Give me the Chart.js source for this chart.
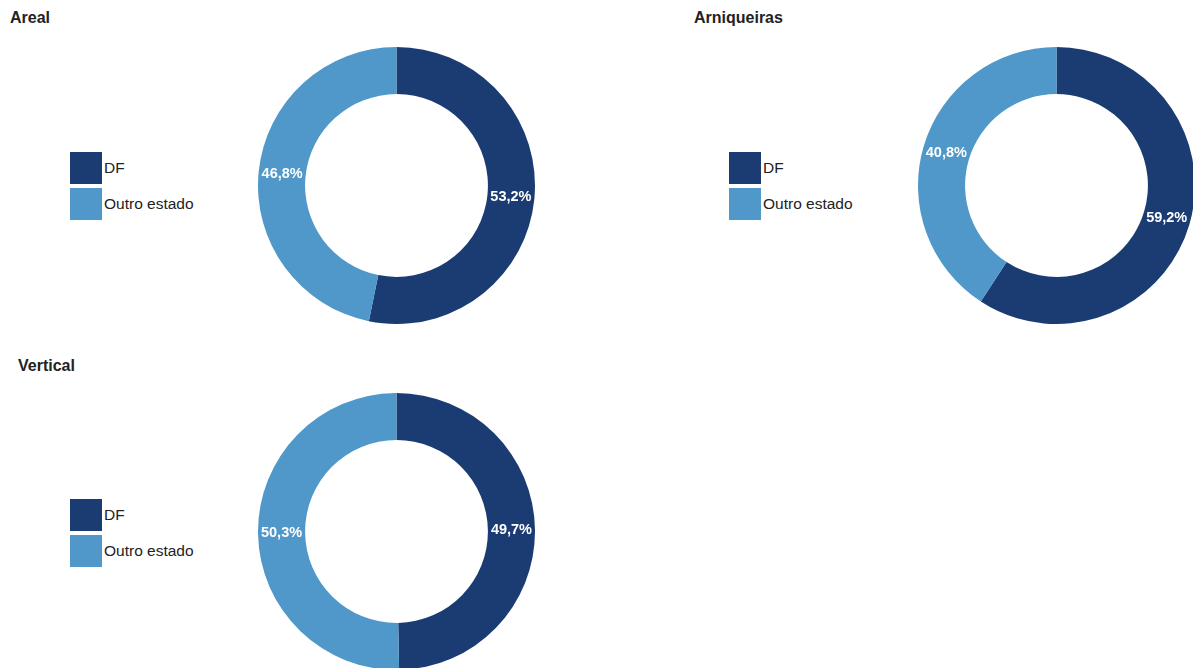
<!DOCTYPE html>
<html>
<head>
<meta charset="utf-8">
<script src="https://cdn.jsdelivr.net/npm/chart.js"></script>
<style>
  body { margin: 0; width: 1193px; height: 668px; overflow: hidden; position: relative; background: #fff;
         font-family: "Liberation Sans", Arial, sans-serif; color: #222; }
  .title { position: absolute; font-weight: bold; font-size: 16px; line-height: 16px; }
  .legend { position: absolute; }
  .item { position: relative; height: 32px; margin-bottom: 4px; }
  .box { position: absolute; left: 0; top: 0; width: 32px; height: 32px; }
  .lbl { position: absolute; left: 34px; top: 0; line-height: 32px; font-size: 15.5px; white-space: nowrap; }
  .wrap { position: absolute; width: 277px; height: 277px; }
</style>
</head>
<body>
<script>
// dados
const categories = ['DF', 'Outro estado'];
const arealValues = [53.2, 46.8];
const arniqueirasValues = [59.2, 40.8];
const verticalValues = [49.7, 50.3];
const colors = ['#1b3c73', '#4f98c9'];

// layout de cada painel
const panels = [
  { title: 'Areal', values: arealValues, tx: 10, ty: 10, lx: 70, ly: 152, cx: 258, cy: 47 },
  { title: 'Arniqueiras', values: arniqueirasValues, tx: 694, ty: 10, lx: 729, ly: 152, cx: 918, cy: 47 },
  { title: 'Vertical', values: verticalValues, tx: 18, ty: 358, lx: 70, ly: 499, cx: 258, cy: 393 }
];

// rotulos no meio de cada fatia
const arcLabels = {
  id: 'arcLabels',
  afterDatasetsDraw(chart) {
    const ctx = chart.ctx;
    const meta = chart.getDatasetMeta(0);
    const data = chart.data.datasets[0].data;
    ctx.save();
    ctx.fillStyle = '#fff';
    ctx.font = 'bold 14.5px "Liberation Sans", Arial, sans-serif';
    ctx.textAlign = 'center';
    ctx.textBaseline = 'middle';
    meta.data.forEach((arc, i) => {
      const p = arc.tooltipPosition();
      ctx.fillText(data[i].toFixed(1).replace('.', ',') + '%', p.x, p.y);
    });
    ctx.restore();
  }
};

panels.forEach(function (p) {
  var t = document.createElement('div');
  t.className = 'title';
  t.style.left = p.tx + 'px';
  t.style.top = p.ty + 'px';
  t.textContent = p.title;
  document.body.appendChild(t);

  var lg = document.createElement('div');
  lg.className = 'legend';
  lg.style.left = p.lx + 'px';
  lg.style.top = p.ly + 'px';
  categories.forEach(function (c, i) {
    lg.innerHTML += '<div class="item"><div class="box" style="background:' + colors[i] + '"></div><div class="lbl">' + c + '</div></div>';
  });
  document.body.appendChild(lg);

  var w = document.createElement('div');
  w.className = 'wrap';
  w.style.left = p.cx + 'px';
  w.style.top = p.cy + 'px';
  var cv = document.createElement('canvas');
  w.appendChild(cv);
  document.body.appendChild(w);

  new Chart(cv, {
    type: 'doughnut',
    data: {
      labels: categories,
      datasets: [{
        data: p.values,
        backgroundColor: colors,
        borderWidth: 0
      }]
    },
    options: {
      responsive: true,
      maintainAspectRatio: false,
      animation: false,
      cutout: '66%',
      plugins: {
        legend: { display: false },
        tooltip: { enabled: false }
      }
    },
    plugins: [arcLabels]
  });
});
</script>
</body>
</html>
